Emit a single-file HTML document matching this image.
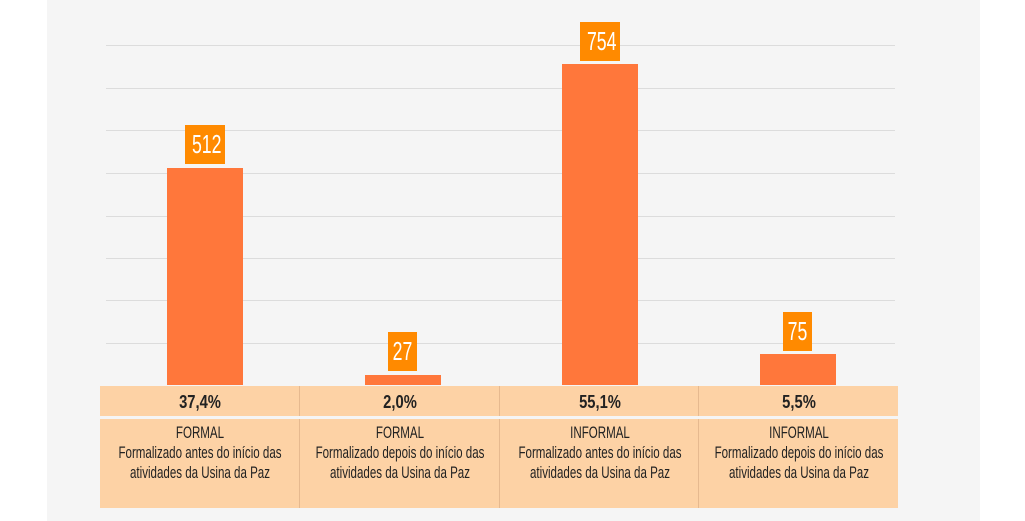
<!DOCTYPE html>
<html><head><meta charset="utf-8"><style>
body{margin:0;width:1025px;height:521px;background:#fff;position:relative;overflow:hidden;font-family:"Liberation Sans",sans-serif}
.p{position:absolute;left:47px;top:0;width:933px;height:521px;background:#f5f5f5}
.g{position:absolute;left:106px;width:789px;height:1px;background:#dcdcdc}
.b{position:absolute;width:76px;background:#ff773b}
.l{position:absolute;background:#ff8a00;color:#fff;font-size:26px;text-align:center;line-height:39px;height:39px;overflow:visible}
.l span{display:inline-block;transform:scaleX(0.68);white-space:nowrap}
.c{position:absolute;background:#fdd2a5;text-align:center;color:#222;overflow:hidden}
.c span{display:block;width:400px;margin-left:-100px;transform:scaleX(0.7);white-space:nowrap;text-align:center}
.r1{top:386px;height:30px;line-height:32px;font-weight:bold;font-size:18px}
.r1 span{transform:scaleX(0.82)}
.r2{top:419px;height:89px;font-size:16.5px;line-height:20px;padding-top:4px;box-sizing:border-box}
.d{position:absolute;width:1px;background:#e6b98f}
</style></head><body>
<div class="p"></div>
<div class="g" style="top:45px"></div><div class="g" style="top:88px"></div><div class="g" style="top:130px"></div><div class="g" style="top:173px"></div><div class="g" style="top:216px"></div><div class="g" style="top:258px"></div><div class="g" style="top:300px"></div><div class="g" style="top:343px"></div>
<div class="b" style="left:167px;top:168px;height:217px"></div>
<div class="b" style="left:365px;top:375px;height:10px"></div>
<div class="b" style="left:562px;top:64px;height:321px"></div>
<div class="b" style="left:760px;top:354px;height:31px"></div>
<div class="l" style="left:185px;top:125px;width:40px"><span>512</span></div>
<div class="l" style="left:388px;top:332px;width:29px"><span>27</span></div>
<div class="l" style="left:580px;top:22px;width:40px"><span>754</span></div>
<div class="l" style="left:783px;top:312px;width:29px"><span>75</span></div>
<div class="c r1" style="left:100px;width:200px"><span>37,4%</span></div>
<div class="c r1" style="left:300px;width:200px"><span>2,0%</span></div>
<div class="c r1" style="left:500px;width:199px"><span>55,1%</span></div>
<div class="c r1" style="left:699px;width:199px"><span>5,5%</span></div>
<div class="c r2" style="left:100px;width:200px"><span>FORMAL</span><span>Formalizado antes do início das</span><span>atividades da Usina da Paz</span></div>
<div class="c r2" style="left:300px;width:200px"><span>FORMAL</span><span>Formalizado depois do início das</span><span>atividades da Usina da Paz</span></div>
<div class="c r2" style="left:500px;width:199px"><span>INFORMAL</span><span>Formalizado antes do início das</span><span>atividades da Usina da Paz</span></div>
<div class="c r2" style="left:699px;width:199px"><span>INFORMAL</span><span>Formalizado depois do início das</span><span>atividades da Usina da Paz</span></div>
<div class="d" style="left:299px;top:386px;height:30px"></div><div class="d" style="left:299px;top:419px;height:89px"></div>
<div class="d" style="left:499px;top:386px;height:30px"></div><div class="d" style="left:499px;top:419px;height:89px"></div>
<div class="d" style="left:698px;top:386px;height:30px"></div><div class="d" style="left:698px;top:419px;height:89px"></div>
</body></html>
